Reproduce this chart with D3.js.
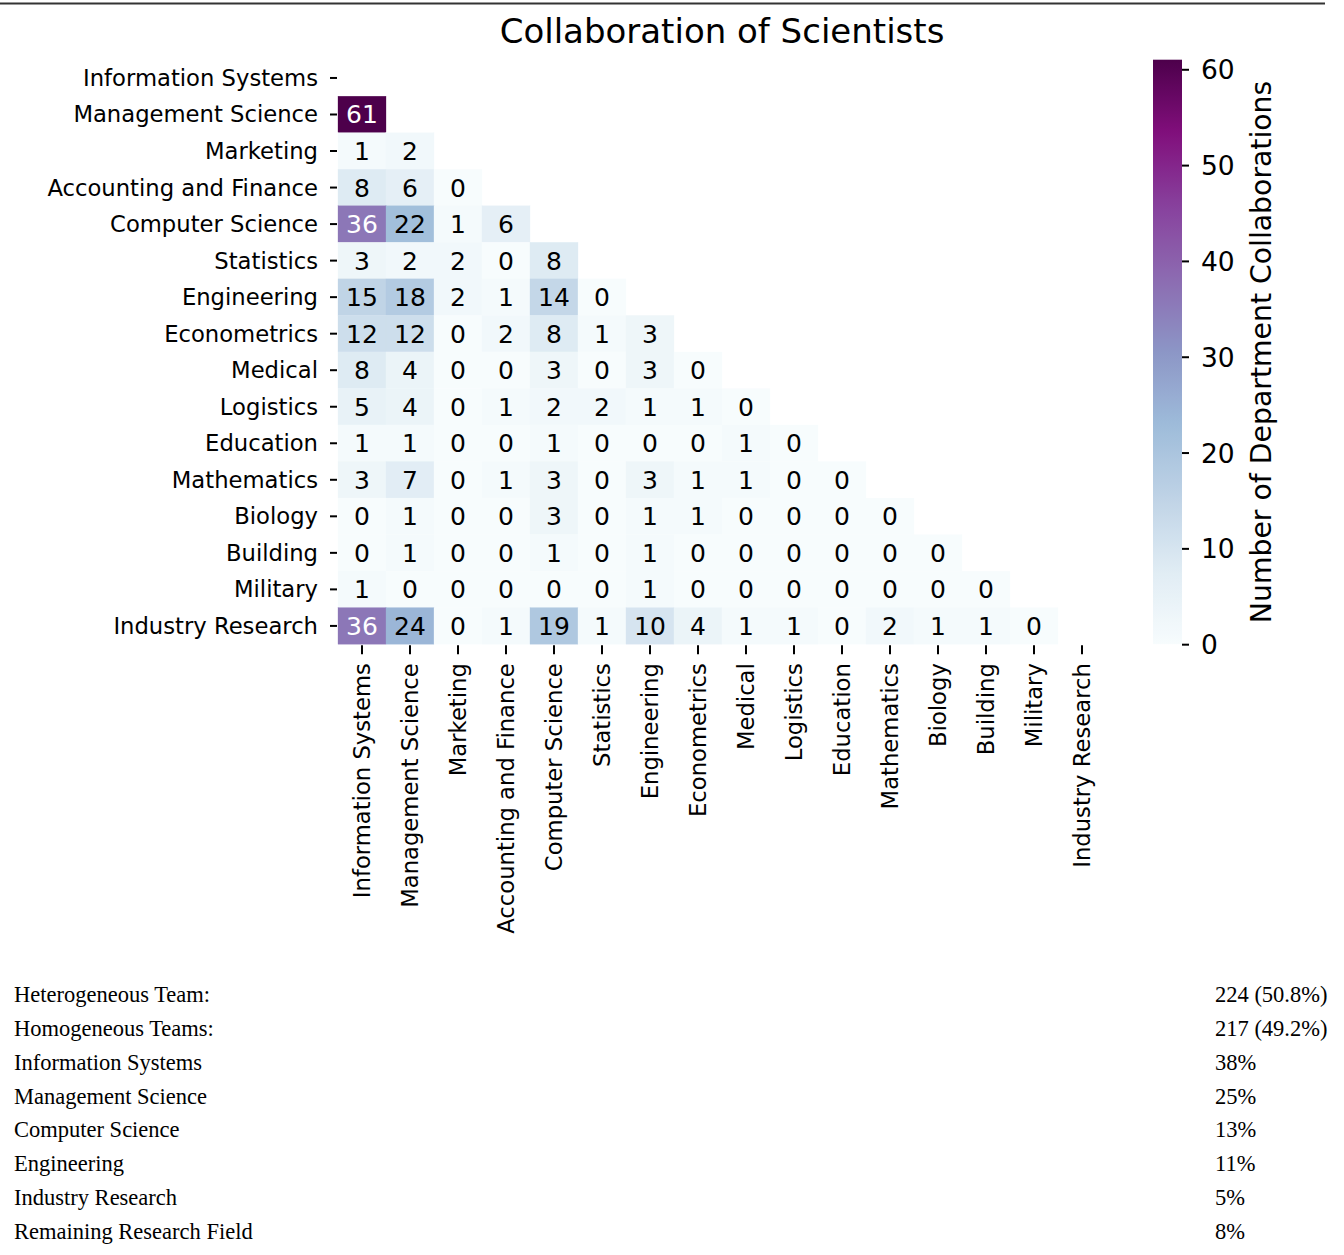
<!DOCTYPE html>
<html>
<head>
<meta charset="utf-8">
<script src="https://cdn.jsdelivr.net/npm/d3@7"></script>
<style>
  body { margin: 0; background: #fff; }
  svg text { font-family: "DejaVu Sans", sans-serif; fill: #000; }
  .tbl text { font-family: "Liberation Serif", "Times New Roman", serif; }
</style>
</head>
<body>
<svg id="chart" width="1344" height="1255"></svg>
<script>
//////////////////////////////////////////////////////////////
///////////////////////// Data ///////////////////////////////
//////////////////////////////////////////////////////////////

var fields = ["Information Systems", "Management Science", "Marketing", "Accounting and Finance",
  "Computer Science", "Statistics", "Engineering", "Econometrics", "Medical", "Logistics",
  "Education", "Mathematics", "Biology", "Building", "Military", "Industry Research"];

// lower triangle, row i holds columns 0..i-1
var rowValues = [
  [],
  [61],
  [1, 2],
  [8, 6, 0],
  [36, 22, 1, 6],
  [3, 2, 2, 0, 8],
  [15, 18, 2, 1, 14, 0],
  [12, 12, 0, 2, 8, 1, 3],
  [8, 4, 0, 0, 3, 0, 3, 0],
  [5, 4, 0, 1, 2, 2, 1, 1, 0],
  [1, 1, 0, 0, 1, 0, 0, 0, 1, 0],
  [3, 7, 0, 1, 3, 0, 3, 1, 1, 0, 0],
  [0, 1, 0, 0, 3, 0, 1, 1, 0, 0, 0, 0],
  [0, 1, 0, 0, 1, 0, 1, 0, 0, 0, 0, 0, 0],
  [1, 0, 0, 0, 0, 0, 1, 0, 0, 0, 0, 0, 0, 0],
  [36, 24, 0, 1, 19, 1, 10, 4, 1, 1, 0, 2, 1, 1, 0]
];

var colorbarTicks = [0, 10, 20, 30, 40, 50, 60];

var summaryLabels = ["Heterogeneous Team:", "Homogeneous Teams:", "Information Systems",
  "Management Science", "Computer Science", "Engineering", "Industry Research",
  "Remaining Research Field"];
var summaryValues = ["224 (50.8%)", "217 (49.2%)", "38%", "25%", "13%", "11%", "5%", "8%"];

//////////////////////////////////////////////////////////////
/////////////////////// Settings /////////////////////////////
//////////////////////////////////////////////////////////////

var mapLeft = 338, mapTop = 59.7;
var cellW = 48, cellH = 36.53;
var n = fields.length;

var cells = [];
rowValues.forEach(function(row, i) {
  row.forEach(function(v, j) { cells.push({row: fields[i], col: fields[j], value: v}); });
});
var vmax = d3.max(cells, function(d) { return d.value; });

// BuPu, linear in RGB like matplotlib
var bupu = ["#f7fcfd", "#e0ecf4", "#bfd3e6", "#9ebcda", "#8c96c6", "#8c6bb1", "#88419d", "#810f7c", "#4d004b"];
var colorScale = d3.scaleLinear()
  .domain(d3.range(bupu.length).map(function(i) { return i / (bupu.length - 1) * vmax; }))
  .range(bupu)
  .interpolate(d3.interpolateRgb)
  .clamp(true);

function textColor(c) {
  var rgb = d3.rgb(c);
  var lin = [rgb.r, rgb.g, rgb.b].map(function(x) {
    x = x / 255;
    return x <= 0.03928 ? x / 12.92 : Math.pow((x + 0.055) / 1.055, 2.4);
  });
  var lum = 0.2126 * lin[0] + 0.7152 * lin[1] + 0.0722 * lin[2];
  return lum > 0.408 ? "#000" : "#fff";
}

var xScale = d3.scaleBand().domain(fields).range([mapLeft, mapLeft + n * cellW]);
var yScale = d3.scaleBand().domain(fields).range([mapTop, mapTop + n * cellH]);

var svg = d3.select("#chart");

// top rule
svg.append("line")
  .attr("x1", 0).attr("x2", 1325).attr("y1", 3.5).attr("y2", 3.5)
  .attr("stroke", "#333").attr("stroke-width", 2);

// title
svg.append("text")
  .attr("x", 722).attr("y", 43)
  .attr("text-anchor", "middle")
  .style("font-size", "34px")
  .text("Collaboration of Scientists");

//////////////////////////////////////////////////////////////
/////////////////////// Heatmap //////////////////////////////
//////////////////////////////////////////////////////////////

var g = svg.append("g");

g.selectAll(".cell")
  .data(cells).enter()
  .append("rect")
    .attr("class", "cell")
    .attr("x", function(d) { return xScale(d.col); })
    .attr("y", function(d) { return yScale(d.row); })
    .attr("width", xScale.bandwidth())
    .attr("height", yScale.bandwidth())
    .attr("fill", function(d) { return colorScale(d.value); })
    .attr("stroke", function(d) { return colorScale(d.value); })
    .attr("stroke-width", 0.3);

g.selectAll(".annot")
  .data(cells).enter()
  .append("text")
    .attr("class", "annot")
    .attr("x", function(d) { return xScale(d.col) + xScale.bandwidth() / 2; })
    .attr("y", function(d) { return yScale(d.row) + yScale.bandwidth() / 2; })
    .attr("dy", "0.36em")
    .attr("text-anchor", "middle")
    .style("font-size", "25px")
    .style("fill", function(d) { return textColor(colorScale(d.value)); })
    .text(function(d) { return d.value; });

// y axis
var yAxisG = svg.append("g")
  .attr("transform", "translate(" + (mapLeft - 1) + ",0)")
  .call(d3.axisLeft(yScale).tickSize(7).tickPadding(12));
yAxisG.select(".domain").remove();
yAxisG.selectAll(".tick line").attr("stroke", "#000").attr("stroke-width", 2);
yAxisG.selectAll(".tick text")
  .style("font-size", "22.7px")
  .attr("dy", "0.35em");

// x axis
var xAxisG = svg.append("g")
  .attr("transform", "translate(0," + (mapTop + n * cellH + 1) + ")")
  .call(d3.axisBottom(xScale).tickSize(9).tickPadding(10));
xAxisG.select(".domain").remove();
xAxisG.selectAll(".tick line").attr("stroke", "#000").attr("stroke-width", 2);
xAxisG.selectAll(".tick text")
  .style("font-size", "22.7px")
  .attr("text-anchor", "end")
  .attr("transform", "rotate(-90)")
  .attr("x", -18)
  .attr("y", 0)
  .attr("dy", "0.36em");

//////////////////////////////////////////////////////////////
/////////////////////// Colorbar /////////////////////////////
//////////////////////////////////////////////////////////////

var cbX = 1153, cbW = 29;
var cbScale = d3.scaleLinear().domain([0, vmax]).range([mapTop + n * cellH, mapTop]);

var grad = svg.append("defs").append("linearGradient")
  .attr("id", "cbGrad")
  .attr("x1", 0).attr("y1", 1).attr("x2", 0).attr("y2", 0);
grad.selectAll("stop")
  .data(d3.range(0, 1.0001, 0.02)).enter()
  .append("stop")
    .attr("offset", function(d) { return d; })
    .attr("stop-color", function(d) { return colorScale(d * vmax); });

svg.append("rect")
  .attr("x", cbX).attr("y", mapTop)
  .attr("width", cbW).attr("height", n * cellH)
  .attr("fill", "url(#cbGrad)");

var cbAxisG = svg.append("g")
  .attr("transform", "translate(" + (cbX + cbW) + ",0)")
  .call(d3.axisRight(cbScale).tickValues(colorbarTicks).tickSize(7).tickPadding(12));
cbAxisG.select(".domain").remove();
cbAxisG.selectAll(".tick line").attr("stroke", "#000").attr("stroke-width", 2);
cbAxisG.selectAll(".tick text")
  .style("font-size", "26.5px")
  .attr("dy", "0.36em");

svg.append("text")
  .attr("transform", "translate(1271," + (mapTop + n * cellH / 2) + ") rotate(-90)")
  .attr("text-anchor", "middle")
  .style("font-size", "28.3px")
  .text("Number of Department Collaborations");

//////////////////////////////////////////////////////////////
/////////////////////// Summary table ////////////////////////
//////////////////////////////////////////////////////////////

var rowY = d3.scalePoint().domain(d3.range(summaryLabels.length)).range([1002, 1239]);
var tbl = svg.append("g").attr("class", "tbl");

tbl.selectAll(".lbl")
  .data(summaryLabels).enter()
  .append("text")
    .attr("x", 14)
    .attr("y", function(d, i) { return rowY(i); })
    .style("font-size", "22.5px")
    .text(function(d) { return d; });

tbl.selectAll(".val")
  .data(summaryValues).enter()
  .append("text")
    .attr("x", 1215)
    .attr("y", function(d, i) { return rowY(i); })
    .style("font-size", "22.5px")
    .text(function(d) { return d; });
</script>
</body>
</html>
